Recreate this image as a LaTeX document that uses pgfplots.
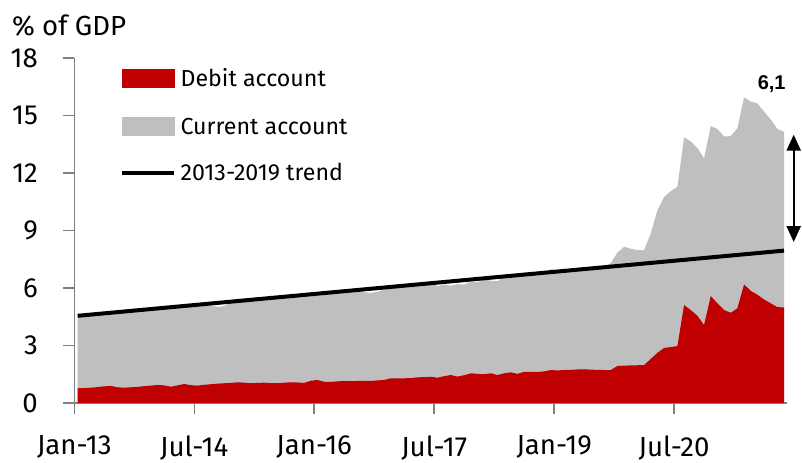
\documentclass[border=0pt]{standalone}
\usepackage{fontspec}
\setmainfont{Fira Sans}
\newfontfamily\numfont{Liberation Sans}
\usepackage{pgfplots}
\usepackage{pgfplotstable}
\pgfplotsset{compat=1.18}
\usetikzlibrary{arrows.meta}
\definecolor{clrRed}{HTML}{C00000}
\definecolor{clrGray}{HTML}{BFBFBF}
\definecolor{clrAxis}{HTML}{808080}

% months since Jan-13 (mid-month), total (% of GDP), debit account
\pgfplotstableread{
x total debit
0.5 4.52 0.77
1.5 4.56 0.78
2.5 4.58 0.80
3.5 4.64 0.83
4.5 4.66 0.87
5.5 4.70 0.89
6.5 4.70 0.82
7.5 4.76 0.80
8.5 4.78 0.82
9.5 4.83 0.84
10.5 4.86 0.88
11.5 4.89 0.91
12.5 4.90 0.94
13.5 4.95 0.92
14.5 4.97 0.85
15.5 5.02 0.92
16.5 5.03 0.99
17.5 5.10 0.93
18.5 5.12 0.91
19.5 5.13 0.95
20.5 5.08 0.98
21.5 5.02 1.01
22.5 5.05 1.03
23.5 5.27 1.05
24.5 5.31 1.08
25.5 5.30 1.06
26.5 5.36 1.03
27.5 5.40 1.05
28.5 5.42 1.06
29.5 5.45 1.04
30.5 5.50 1.03
31.5 5.52 1.06
32.5 5.58 1.08
33.5 5.60 1.07
34.5 5.64 1.05
35.5 5.66 1.16
36.5 5.71 1.20
37.5 5.70 1.11
38.5 5.76 1.10
39.5 5.80 1.13
40.5 5.84 1.15
41.5 5.86 1.14
42.5 5.88 1.15
43.5 5.78 1.16
44.5 5.74 1.15
45.5 5.80 1.18
46.5 5.92 1.20
47.5 6.06 1.29
48.5 6.08 1.28
49.5 6.10 1.29
50.5 6.14 1.30
51.5 6.17 1.34
52.5 6.20 1.35
53.5 6.25 1.37
54.5 6.10 1.32
55.5 6.18 1.40
56.5 6.12 1.46
57.5 6.20 1.38
58.5 6.18 1.45
59.5 6.34 1.55
60.5 6.30 1.52
61.5 6.44 1.50
62.5 6.38 1.55
63.5 6.36 1.46
64.5 6.55 1.55
65.5 6.64 1.60
66.5 6.63 1.52
67.5 6.68 1.63
68.5 6.70 1.62
69.5 6.73 1.62
70.5 6.83 1.65
71.5 6.98 1.72
72.5 6.92 1.70
73.5 6.95 1.72
74.5 6.96 1.73
75.5 7.00 1.75
76.5 7.04 1.76
77.5 7.06 1.74
78.5 7.07 1.73
79.5 7.12 1.72
80.5 7.30 1.72
81.5 7.85 1.93
82.5 8.15 1.95
83.5 8.05 1.96
84.5 7.98 1.97
85.5 7.98 1.98
86.5 8.85 2.30
87.5 10.05 2.62
88.5 10.75 2.87
89.5 11.05 2.92
90.5 11.28 2.97
91.5 13.86 5.11
92.5 13.65 4.85
93.5 13.30 4.55
94.5 12.76 4.07
95.5 14.45 5.58
96.5 14.30 5.20
97.5 13.90 4.85
98.5 13.93 4.71
99.5 14.33 4.94
100.5 15.95 6.19
101.5 15.72 5.85
102.5 15.63 5.65
103.5 15.20 5.40
104.5 14.80 5.20
105.5 14.30 5.00
106.5 14.15 4.99
}\flows

\begin{document}
\begin{tikzpicture}
\begin{axis}[
  scale only axis,
  width=356.2pt, height=172.5pt,
  at={(0pt,0pt)}, anchor=south west,
  xmin=0, xmax=106.9, ymin=0, ymax=18,
  axis lines=left,
  axis line style={-, draw=clrAxis, line width=0.75pt},
  tick align=outside,
  major tick length=5.5pt,
  tick style={draw=clrAxis, line width=0.75pt},
  xtick={0,18,36,54,72,90},
  xticklabels={Jan-13,Jul-14,Jan-16,Jul-17,Jan-19,Jul-20},
  ytick={0,3,...,18},
  /pgf/number format/assume math mode=true,
  tick label style={font=\fontsize{13.8}{16}\selectfont},
  yticklabel style={anchor=east, inner sep=0pt, xshift=-12.5pt},
  xticklabel style={anchor=north, inner sep=0pt, yshift=-10.5pt},
  clip=false,
  legend style={
    at={(rel axis cs:0,1)}, anchor=north west,
    xshift=22.85pt, yshift=-5.5pt,
    draw=none, fill=none, inner sep=0pt, outer sep=0pt,
    row sep=14.5pt, column sep=2.3pt,
    font=\fontsize{11.6}{14}\selectfont,
    nodes={inner sep=0pt, text height=8pt, text depth=0pt},
  },
  legend cell align=left,
]
\addlegendimage{legend image code/.code={\fill[clrRed] (0pt,-4.5pt) rectangle (26pt,4.5pt);}}
\addlegendentry{Debit account}
\addlegendimage{legend image code/.code={\fill[clrGray] (0pt,-4.5pt) rectangle (26pt,4.5pt);}}
\addlegendentry{Current account}
\addlegendimage{legend image code/.code={\draw[black, line width=2pt] (0pt,0pt) -- (26pt,0pt);}}
\addlegendentry{2013-2019 trend}

\addplot[fill=clrGray, draw=none, forget plot] table[x=x, y=total] {\flows} \closedcycle;
\addplot[fill=clrRed, draw=none, forget plot] table[x=x, y=debit] {\flows} \closedcycle;
\addplot[black, line width=2pt, forget plot] coordinates {(0.5,4.55) (106.5,7.95)};

\draw[{Triangle[width=7pt,length=8pt]}-{Triangle[width=7pt,length=8pt]}, line width=1.2pt]
  (axis cs:107.95,14.0) -- (axis cs:107.95,8.4);
\node[font=\numfont\bfseries\fontsize{10}{12}\selectfont] at (axis cs:104.65,16.65) {6,1};
\node[anchor=base west, inner sep=0pt, font=\fontsize{13.8}{16}\selectfont]
  at ([shift={(-31.3pt,11.5pt)}]rel axis cs:0,1) {\% of GDP};
\end{axis}
\pgfresetboundingbox
\path (-37.15pt,-29.5pt) rectangle (363.85pt,201.5pt);
\end{tikzpicture}
\end{document}
